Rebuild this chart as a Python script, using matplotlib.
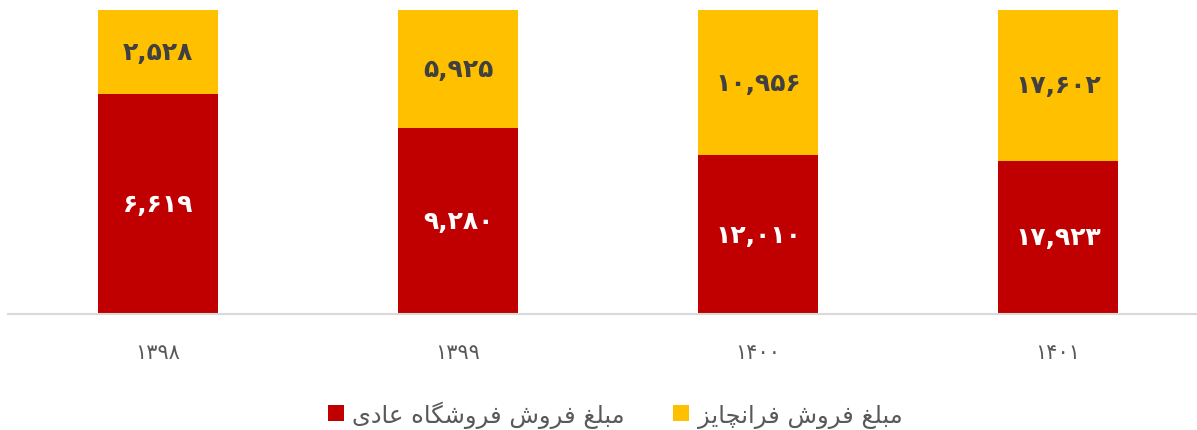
import numpy as np
import matplotlib.pyplot as plt

# dane
lata = ['۱۳۹۸', '۱۳۹۹', '۱۴۰۰', '۱۴۰۱']
sprzedaz_zwykla = [6619, 9280, 12010, 17923]
sprzedaz_franczyza = [2528, 5925, 10956, 17602]
etykiety_zwykla = ['۶,۶۱۹', '۹,۲۸۰', '۱۲,۰۱۰', '۱۷,۹۲۳']
etykiety_franczyza = ['۲,۵۲۸', '۵,۹۲۵', '۱۰,۹۵۶', '۱۷,۶۰۲']
legenda = ['مبلغ فروش فروشگاه عادی', 'مبلغ فروش فرانچایز']

# proste ksztaltowanie liter arabskich (iso, fin, ini, med)
formy = {
    'ا': (0xFE8D, 0xFE8E, None, None),
    'د': (0xFEA9, 0xFEAA, None, None),
    'ر': (0xFEAD, 0xFEAE, None, None),
    'ز': (0xFEAF, 0xFEB0, None, None),
    'و': (0xFEED, 0xFEEE, None, None),
    'ب': (0xFE8F, 0xFE90, 0xFE91, 0xFE92),
    'چ': (0xFB7A, 0xFB7B, 0xFB7C, 0xFB7D),
    'ش': (0xFEB5, 0xFEB6, 0xFEB7, 0xFEB8),
    'ع': (0xFEC9, 0xFECA, 0xFECB, 0xFECC),
    'غ': (0xFECD, 0xFECE, 0xFECF, 0xFED0),
    'ف': (0xFED1, 0xFED2, 0xFED3, 0xFED4),
    'گ': (0xFB92, 0xFB93, 0xFB94, 0xFB95),
    'ل': (0xFEDD, 0xFEDE, 0xFEDF, 0xFEE0),
    'م': (0xFEE1, 0xFEE2, 0xFEE3, 0xFEE4),
    'ن': (0xFEE5, 0xFEE6, 0xFEE7, 0xFEE8),
    'ه': (0xFEE9, 0xFEEA, 0xFEEB, 0xFEEC),
    'ی': (0xFBFC, 0xFBFD, 0xFBFE, 0xFBFF),
}

def ksztaltuj(tekst):
    wynik = []
    for i, c in enumerate(tekst):
        if c not in formy:
            wynik.append(c)
            continue
        prev = tekst[i - 1] if i > 0 else ' '
        nast = tekst[i + 1] if i < len(tekst) - 1 else ' '
        z_prev = prev in formy and formy[prev][2] is not None
        z_nast = nast in formy and formy[c][2] is not None
        f = formy[c]
        if z_prev and z_nast:
            kod = f[3]
        elif z_prev:
            kod = f[1]
        elif z_nast:
            kod = f[2]
        else:
            kod = f[0]
        wynik.append(chr(kod))
    return ''.join(wynik)[::-1]

czerwony = '#C00000'
zolty = '#FFC000'

suma = np.array(sprzedaz_zwykla) + np.array(sprzedaz_franczyza)
udz_zwykla = np.array(sprzedaz_zwykla) / suma
udz_franczyza = np.array(sprzedaz_franczyza) / suma

fig = plt.figure(figsize=(11.97, 4.31), dpi=100)
ax = fig.add_axes([8 / 1197, 116 / 431, 1 - 8 / 1197, 304 / 431])
x = np.arange(len(lata))
b1 = ax.bar(x, udz_zwykla, 0.4, color=czerwony, label=ksztaltuj(legenda[0]))
b2 = ax.bar(x, udz_franczyza, 0.4, bottom=udz_zwykla, color=zolty, label=ksztaltuj(legenda[1]))

for i in range(len(lata)):
    ax.text(x[i], udz_zwykla[i] / 2, etykiety_zwykla[i], ha='center', va='center',
            color='white', fontsize=18, fontweight='bold')
    ax.text(x[i], udz_zwykla[i] + udz_franczyza[i] / 2, etykiety_franczyza[i], ha='center',
            va='center', color='#404040', fontsize=18, fontweight='bold')

ax.set_xlim(-0.5, 3.463)
ax.set_ylim(0, 1)
ax.set_xticks(x)
ax.set_xticklabels(lata, fontsize=15, color='#595959')
ax.tick_params(axis='x', length=0, pad=20)
ax.set_yticks([])
for s in ['top', 'right', 'left']:
    ax.spines[s].set_visible(False)
ax.spines['bottom'].set_color('#D9D9D9')
ax.spines['bottom'].set_linewidth(1.5)

fig.legend(handles=[b1, b2], loc='center', bbox_to_anchor=(615 / 1197, 1 - 415 / 431),
           ncol=2, frameon=False, fontsize=17.5, labelcolor='#595959',
           handlelength=0.65, handleheight=0.65, columnspacing=2.0, handletextpad=0.35)

fig.savefig('out.png', dpi=100)
